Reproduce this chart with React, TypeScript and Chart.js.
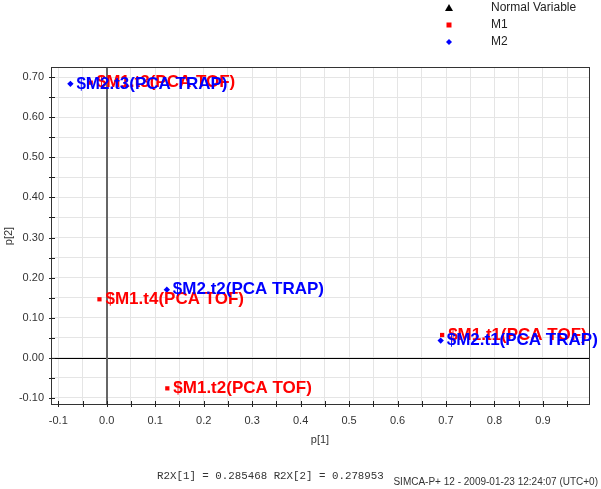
import React, { useEffect, useRef } from "react";
import { Chart, registerables } from "chart.js";

Chart.register(...registerables);

const m1Labels = ["$M1.t1(PCA TOF)", "$M1.t2(PCA TOF)", "$M1.t3(PCA TOF)", "$M1.t4(PCA TOF)"];
const m1X = [0.692, 0.125, -0.033, -0.015];
const m1Y = [0.057, -0.076, 0.686, 0.146];

const m2Labels = ["$M2.t1(PCA TRAP)", "$M2.t2(PCA TRAP)", "$M2.t3(PCA TRAP)"];
const m2X = [0.689, 0.124, -0.075];
const m2Y = [0.043, 0.17, 0.683];

const legendLabels = ["Normal Variable", "M1", "M2"];
const xTitle = "p[1]";
const yTitle = "p[2]";
const footerLeft = "R2X[1] = 0.285468 R2X[2] = 0.278953";
const footerRight = "SIMCA-P+ 12 - 2009-01-23 12:24:07 (UTC+0)";

const RED = "#ff0000";
const BLUE = "#0000ff";
const SANS = "'Liberation Sans', Arial, sans-serif";

const isMajor = (v: number) => Math.abs(Math.round(v * 10) - v * 10) < 1e-6;

const overlay = {
  id: "overlay",
  beforeDatasetsDraw(chart: any) {
    const { ctx, chartArea: a, scales } = chart;
    const x0 = scales.x.getPixelForValue(0);
    const y0 = scales.y.getPixelForValue(0);
    ctx.save();
    ctx.strokeStyle = "#000";
    ctx.lineWidth = 1;
    ctx.beginPath();
    ctx.moveTo(a.left, Math.round(y0) + 0.5);
    ctx.lineTo(a.right, Math.round(y0) + 0.5);
    ctx.stroke();
    ctx.strokeStyle = "#666";
    ctx.lineWidth = 2;
    ctx.beginPath();
    ctx.moveTo(Math.round(x0), a.top);
    ctx.lineTo(Math.round(x0), a.bottom);
    ctx.stroke();
    // box
    ctx.strokeStyle = "#333";
    ctx.lineWidth = 1;
    ctx.strokeRect(Math.round(a.left) + 0.5, Math.round(a.top) + 0.5, Math.round(a.right - a.left), Math.round(a.bottom - a.top));
    // tick marks crossing the axes
    ctx.strokeStyle = "#222";
    ctx.beginPath();
    scales.x.ticks.forEach((t: any) => {
      const px = Math.round(scales.x.getPixelForValue(t.value)) + 0.5;
      ctx.moveTo(px, Math.round(a.bottom) - 3);
      ctx.lineTo(px, Math.round(a.bottom) + 3);
    });
    scales.y.ticks.forEach((t: any) => {
      const py = Math.round(scales.y.getPixelForValue(t.value)) + 0.5;
      ctx.moveTo(Math.round(a.left) - 2, py);
      ctx.lineTo(Math.round(a.left) + 4, py);
    });
    ctx.stroke();
    ctx.restore();
  },
  afterDatasetsDraw(chart: any) {
    const { ctx, chartArea: a } = chart;
    ctx.save();
    ctx.font = `bold 17px ${SANS}`;
    ctx.textBaseline = "middle";
    ctx.textAlign = "left";
    chart.data.datasets.forEach((ds: any, di: number) => {
      const meta = chart.getDatasetMeta(di);
      ctx.fillStyle = ds.textColor;
      meta.data.forEach((el: any, i: number) => {
        ctx.fillText(ds.labels[i], el.x + 6, el.y);
      });
    });
    ctx.restore();

    ctx.save();
    // legend
    const lx = 449;
    const ly = [8, 25, 42];
    ctx.fillStyle = "#000";
    ctx.beginPath();
    ctx.moveTo(lx, ly[0] - 4);
    ctx.lineTo(lx + 4, ly[0] + 3);
    ctx.lineTo(lx - 4, ly[0] + 3);
    ctx.closePath();
    ctx.fill();
    ctx.fillStyle = RED;
    ctx.fillRect(lx - 2.5, ly[1] - 2.5, 5, 5);
    ctx.fillStyle = BLUE;
    ctx.beginPath();
    ctx.moveTo(lx, ly[2] - 3);
    ctx.lineTo(lx + 3, ly[2]);
    ctx.lineTo(lx, ly[2] + 3);
    ctx.lineTo(lx - 3, ly[2]);
    ctx.closePath();
    ctx.fill();
    ctx.fillStyle = "#222";
    ctx.font = `12px ${SANS}`;
    ctx.textBaseline = "middle";
    legendLabels.forEach((t, i) => ctx.fillText(t, 491, ly[i]));

    // axis titles
    ctx.font = `11px ${SANS}`;
    ctx.fillStyle = "#333";
    ctx.textAlign = "center";
    ctx.fillText(xTitle, (a.left + a.right) / 2, 440);
    ctx.save();
    ctx.translate(9, 236);
    ctx.rotate(-Math.PI / 2);
    ctx.fillText(yTitle, 0, 0);
    ctx.restore();

    // footer
    ctx.font = `10.8px 'Liberation Mono', 'Courier New', monospace`;
    ctx.textAlign = "left";
    ctx.fillText(footerLeft, 157, 476);
    ctx.font = `10px ${SANS}`;
    ctx.textAlign = "right";
    ctx.fillText(footerRight, 598, 482);
    ctx.restore();
  },
};

export default function App() {
  const ref = useRef<HTMLCanvasElement | null>(null);
  useEffect(() => {
    if (!ref.current) return;
    const chart = new Chart(ref.current, {
      type: "scatter",
      data: {
        datasets: [
          {
            label: "M1",
            data: m1X.map((x, i) => ({ x, y: m1Y[i] })),
            pointStyle: "rect",
            pointRadius: 3,
            backgroundColor: RED,
            borderColor: RED,
            borderWidth: 0,
            labels: m1Labels,
            textColor: RED,
          } as any,
          {
            label: "M2",
            data: m2X.map((x, i) => ({ x, y: m2Y[i] })),
            pointStyle: "rectRot",
            pointRadius: 3.2,
            backgroundColor: BLUE,
            borderColor: BLUE,
            borderWidth: 0,
            labels: m2Labels,
            textColor: BLUE,
          } as any,
        ],
      },
      options: {
        animation: false,
        responsive: false,
        maintainAspectRatio: false,
        events: [],
        layout: { padding: { left: 0, top: 67, right: 12, bottom: 0 } },
        plugins: { legend: { display: false }, tooltip: { enabled: false }, title: { display: false } },
        scales: {
          x: {
            type: "linear",
            min: -0.115,
            max: 0.995,
            afterFit: (s: any) => {
              s.height = 85;
            },
            border: { display: true, color: "#333", width: 1 },
            grid: {
              color: "#e5e5e5",
              drawTicks: false,
            },
            ticks: {
              stepSize: 0.05,
              includeBounds: false,
              autoSkip: false,
              maxRotation: 0,
              padding: 10,
              color: "#333",
              font: { family: SANS, size: 11 },
              callback: (v: any) => (isMajor(Number(v)) ? Number(v).toFixed(1) : ""),
            },
          },
          y: {
            type: "linear",
            min: -0.115,
            max: 0.725,
            afterFit: (s: any) => {
              s.width = 51;
            },
            border: { display: true, color: "#333", width: 1 },
            grid: {
              color: "#e5e5e5",
              drawTicks: false,
            },
            ticks: {
              stepSize: 0.05,
              includeBounds: false,
              autoSkip: false,
              padding: 7,
              color: "#333",
              font: { family: SANS, size: 11 },
              callback: (v: any) => (isMajor(Number(v)) ? Number(v).toFixed(2) : ""),
            },
          },
        },
      } as any,
      plugins: [overlay],
    });
    return () => chart.destroy();
  }, []);
  return (
    <div style={{ position: "absolute", left: 0, top: 0, width: 601, height: 489, background: "#fff" }}>
      <canvas ref={ref} width={601} height={489} style={{ width: 601, height: 489, display: "block" }} />
    </div>
  );
}
